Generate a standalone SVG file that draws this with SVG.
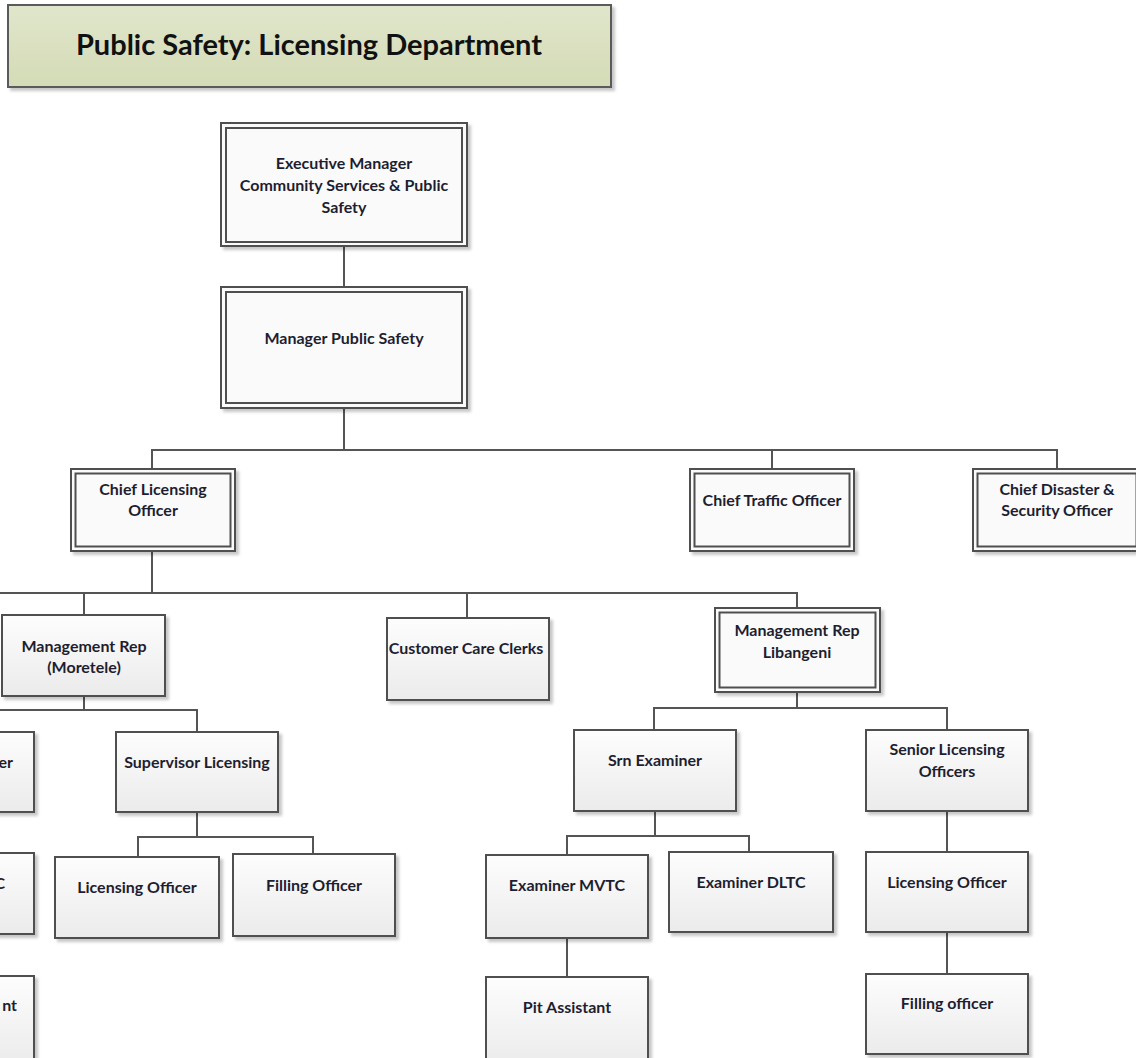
<svg xmlns="http://www.w3.org/2000/svg" width="1136" height="1058" viewBox="0 0 1136 1058">
  <defs>
    <linearGradient id="boxFill" x1="0" y1="0" x2="0" y2="1">
      <stop offset="0" stop-color="#fdfdfd"/>
      <stop offset="1" stop-color="#ebebeb"/>
    </linearGradient>
    <linearGradient id="titleFill" x1="0" y1="0" x2="0" y2="1">
      <stop offset="0" stop-color="#e0e6cb"/>
      <stop offset="1" stop-color="#d4dbb6"/>
    </linearGradient>
    <filter id="shadow" x="-10%" y="-10%" width="130%" height="130%">
      <feDropShadow dx="3" dy="3" stdDeviation="1.5" flood-color="#000" flood-opacity="0.22"/>
    </filter>
  </defs>
  <style>
    .box { fill: url(#boxFill); stroke: #4f4f4f; stroke-width: 2; filter: url(#shadow); }
    .inner { fill: none; stroke: #4f4f4f; stroke-width: 2; }
    .outer { fill: #fafafa; stroke: #4f4f4f; stroke-width: 2; filter: url(#shadow); }
    .title { fill: url(#titleFill); stroke: #5a5a5a; stroke-width: 2; filter: url(#shadow); }
    .lbl { font-family: Lato, "Liberation Sans", sans-serif; font-weight: bold; font-size: 16px; fill: #1e1e30; text-anchor: middle; }
    .ttl { font-family: Lato, "Liberation Sans", sans-serif; font-weight: bold; font-size: 29px; fill: #111; text-anchor: middle; }
    .frag { text-anchor: end; }
    .wire { fill: none; stroke: #555; stroke-width: 2; }
  </style>
  <rect width="1136" height="1058" fill="#fff"/>

  <!-- heading -->
  <g id="heading">
    <rect class="title" x="8" y="5" width="603" height="82"/>
    <text class="ttl" x="309" y="55">Public Safety: Licensing Department</text>
  </g>

  <!-- reporting lines -->
  <g id="connectors">
    <path class="wire" d="M344 246V287"/>
    <path class="wire" d="M344 408V450M152 469V450H1057V469M772 450V469"/>
    <path class="wire" d="M152 551V593M0 593H797V608M84 593V615M467 593V618"/>
    <path class="wire" d="M84 696V710M0 710H197V732"/>
    <path class="wire" d="M197 812V837M138 857V837H313V854"/>
    <path class="wire" d="M797 692V708M654 730V708H947V730"/>
    <path class="wire" d="M655 811V836M567 855V836H749V852"/>
    <path class="wire" d="M567 938V977"/>
    <path class="wire" d="M947 811V852M947 932V974"/>
  </g>

  <g id="exec-manager">
    <rect class="outer" x="221" y="123" width="246" height="123"/>
    <rect class="inner" x="226" y="128" width="236" height="114" fill="url(#boxFill)"/>
    <text class="lbl" x="344" y="169">Executive Manager</text>
    <text class="lbl" x="344" y="191">Community Services &amp; Public</text>
    <text class="lbl" x="344" y="213">Safety</text>
  </g>

  <g id="manager-public-safety">
    <rect class="outer" x="221" y="287" width="246" height="121"/>
    <rect class="inner" x="226" y="292" width="236" height="111" fill="url(#boxFill)"/>
    <text class="lbl" x="344" y="344">Manager Public Safety</text>
  </g>

  <g id="chief-licensing-officer">
    <rect class="outer" x="71" y="469" width="164" height="82"/>
    <rect class="inner" x="75.5" y="473.5" width="155" height="73" fill="url(#boxFill)"/>
    <text class="lbl" x="153" y="495">Chief Licensing</text>
    <text class="lbl" x="153" y="516">Officer</text>
  </g>

  <g id="chief-traffic-officer">
    <rect class="outer" x="690" y="469" width="164" height="82"/>
    <rect class="inner" x="694.5" y="473.5" width="155" height="73" fill="url(#boxFill)"/>
    <text class="lbl" x="772" y="506">Chief Traffic Officer</text>
  </g>

  <g id="chief-disaster-security-officer">
    <rect class="outer" x="973" y="469" width="168" height="82"/>
    <rect class="inner" x="977.5" y="473.5" width="159" height="73" fill="url(#boxFill)"/>
    <text class="lbl" x="1057" y="495">Chief Disaster &amp;</text>
    <text class="lbl" x="1057" y="516">Security Officer</text>
  </g>

  <g id="management-rep-moretele">
    <rect class="box" x="2" y="615" width="163" height="81"/>
    <text class="lbl" x="84" y="652">Management Rep</text>
    <text class="lbl" x="84" y="673">(Moretele)</text>
  </g>

  <g id="customer-care-clerks">
    <rect class="box" x="387" y="618" width="162" height="82"/>
    <text class="lbl" x="466" y="654">Customer Care Clerks</text>
  </g>

  <g id="management-rep-libangeni">
    <rect class="outer" x="715" y="608" width="165" height="84"/>
    <rect class="inner" x="719.5" y="612.5" width="156" height="75" fill="url(#boxFill)"/>
    <text class="lbl" x="797" y="636">Management Rep</text>
    <text class="lbl" x="797" y="658">Libangeni</text>
  </g>

  <!-- column running off the left edge -->
  <g id="left-column-1">
    <rect class="box" x="-128" y="732" width="162" height="80"/>
    <text class="lbl frag" x="13" y="768">er</text>
  </g>
  <g id="left-column-2">
    <rect class="box" x="-128" y="853" width="162" height="81"/>
    <text class="lbl frag" x="5" y="889">C</text>
  </g>
  <g id="left-column-3">
    <rect class="box" x="-128" y="976" width="162" height="90"/>
    <text class="lbl frag" x="17" y="1011">nt</text>
  </g>

  <g id="supervisor-licensing">
    <rect class="box" x="116" y="732" width="162" height="80"/>
    <text class="lbl" x="197" y="768">Supervisor Licensing</text>
  </g>

  <g id="licensing-officer-moretele">
    <rect class="box" x="55" y="857" width="164" height="81"/>
    <text class="lbl" x="137" y="893">Licensing Officer</text>
  </g>

  <g id="filling-officer-moretele">
    <rect class="box" x="233" y="854" width="162" height="82"/>
    <text class="lbl" x="314" y="891">Filling Officer</text>
  </g>

  <g id="srn-examiner">
    <rect class="box" x="574" y="730" width="162" height="81"/>
    <text class="lbl" x="655" y="766">Srn Examiner</text>
  </g>

  <g id="examiner-mvtc">
    <rect class="box" x="486" y="855" width="162" height="83"/>
    <text class="lbl" x="567" y="891">Examiner MVTC</text>
  </g>

  <g id="examiner-dltc">
    <rect class="box" x="669" y="852" width="164" height="80"/>
    <text class="lbl" x="751" y="888">Examiner DLTC</text>
  </g>

  <g id="pit-assistant">
    <rect class="box" x="486" y="977" width="162" height="90"/>
    <text class="lbl" x="567" y="1013">Pit Assistant</text>
  </g>

  <g id="senior-licensing-officers">
    <rect class="box" x="866" y="730" width="162" height="81"/>
    <text class="lbl" x="947" y="755">Senior Licensing</text>
    <text class="lbl" x="947" y="777">Officers</text>
  </g>

  <g id="licensing-officer-libangeni">
    <rect class="box" x="866" y="852" width="162" height="80"/>
    <text class="lbl" x="947" y="888">Licensing Officer</text>
  </g>

  <g id="filling-officer-libangeni">
    <rect class="box" x="866" y="974" width="162" height="80"/>
    <text class="lbl" x="947" y="1009">Filling officer</text>
  </g>
</svg>
